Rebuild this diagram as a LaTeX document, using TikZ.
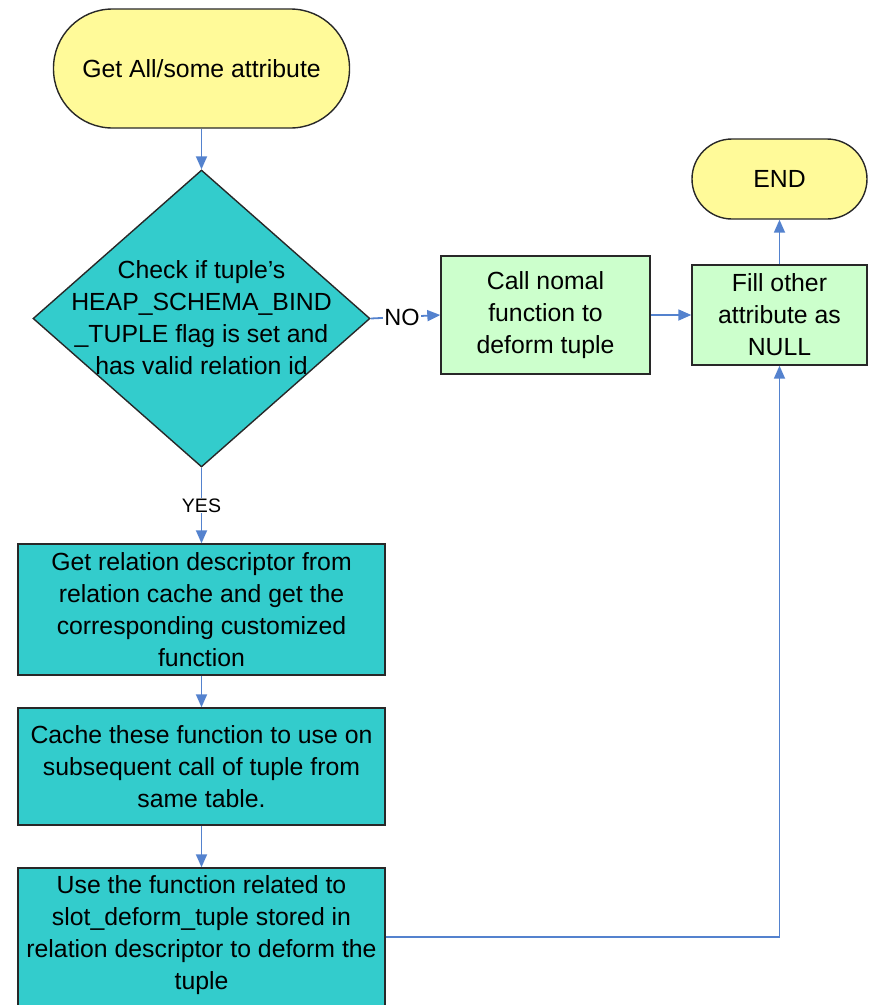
\documentclass[tikz,border=0pt]{standalone}
\usepackage{fontspec}
\setmainfont{Liberation Sans}
\usetikzlibrary{arrows.meta,shapes.geometric}
\definecolor{termfill}{RGB}{255,250,153}
\definecolor{tealfill}{RGB}{51,204,204}
\definecolor{greenfill}{RGB}{204,255,204}
\definecolor{flowblue}{RGB}{84,130,206}
\definecolor{edge}{RGB}{40,40,40}
\tikzset{
  txt/.style={font=\fontsize{24.8}{32}\selectfont, align=center, text=black},
  terminal/.style={txt, draw=edge, line width=1.4pt, fill=termfill, inner sep=0pt},
  process/.style={txt, draw=edge, line width=1.4pt, fill=greenfill, inner sep=0pt},
  tealbox/.style={txt, draw=edge, line width=1.4pt, fill=tealfill, inner sep=0pt},
  decision/.style={diamond, draw=edge, line width=1.4pt, fill=tealfill, inner sep=0pt},
  flow/.style={draw=flowblue, line width=1.8pt, -{Triangle[length=13pt,width=11pt]}},
  lbl/.style={fill=white, inner sep=1pt, text=black}
}
\begin{document}
\begin{tikzpicture}[x=1pt,y=-1pt]
\useasboundingbox (0,0) rectangle (873,1005);

% terminals
\node[terminal, minimum width=296pt, minimum height=119pt, rounded corners=59pt] (start) at (201.5,68.5) {Get All/some attribute};
\node[terminal, minimum width=175pt, minimum height=80pt, rounded corners=40pt] (end) at (779.5,179) {END};

% decision
\node[decision, minimum width=337pt, minimum height=297pt] (dec) at (201.5,318.5) {};
\node[txt] (dectext) at (201.5,318) {Check if tuple’s\\HEAP\_SCHEMA\_BIND\\\_TUPLE flag is set and\\has valid relation id};

% right-hand branch
\node[process, minimum width=209pt, minimum height=118pt] (call) at (545.5,315) {Call nomal\\function to\\deform tuple};
\node[process, minimum width=175pt, minimum height=100pt] (fill) at (779.5,315) {Fill other\\attribute as\\NULL};

% main column
\node[tealbox, minimum width=367pt, minimum height=131pt] (rel) at (201.5,609.5) {Get relation descriptor from\\relation cache and get the\\corresponding customized\\function};
\node[tealbox, minimum width=367pt, minimum height=117pt] (cache) at (201.5,766.5) {Cache these function to use on\\subsequent call of tuple from\\same table.};
\node[tealbox, minimum width=367pt, minimum height=138pt] (use) at (201.5,937) {};
\node[txt] (usetext) at (201.5,935.5) {Use the function related to\\slot\_deform\_tuple stored in\\relation descriptor to deform the\\tuple};

% connectors
\draw[flow] (start.south) -- (dec.north);
\draw[flow] (dec.east) -- node[lbl, pos=0.45, font=\fontsize{23.5}{26}\selectfont] (no) {NO} (call.west);
\draw[flow] (dec.south) -- node[lbl, font=\fontsize{19.5}{22}\selectfont] (yes) {YES} (rel.north);
\draw[flow] (call.east) -- (fill.west);
\draw[flow] (fill.north) -- (end.south);
\draw[flow] (rel.south) -- (cache.north);
\draw[flow] (cache.south) -- (use.north);
\draw[flow] (use.east) -| (fill.south);
\end{tikzpicture}
\end{document}
